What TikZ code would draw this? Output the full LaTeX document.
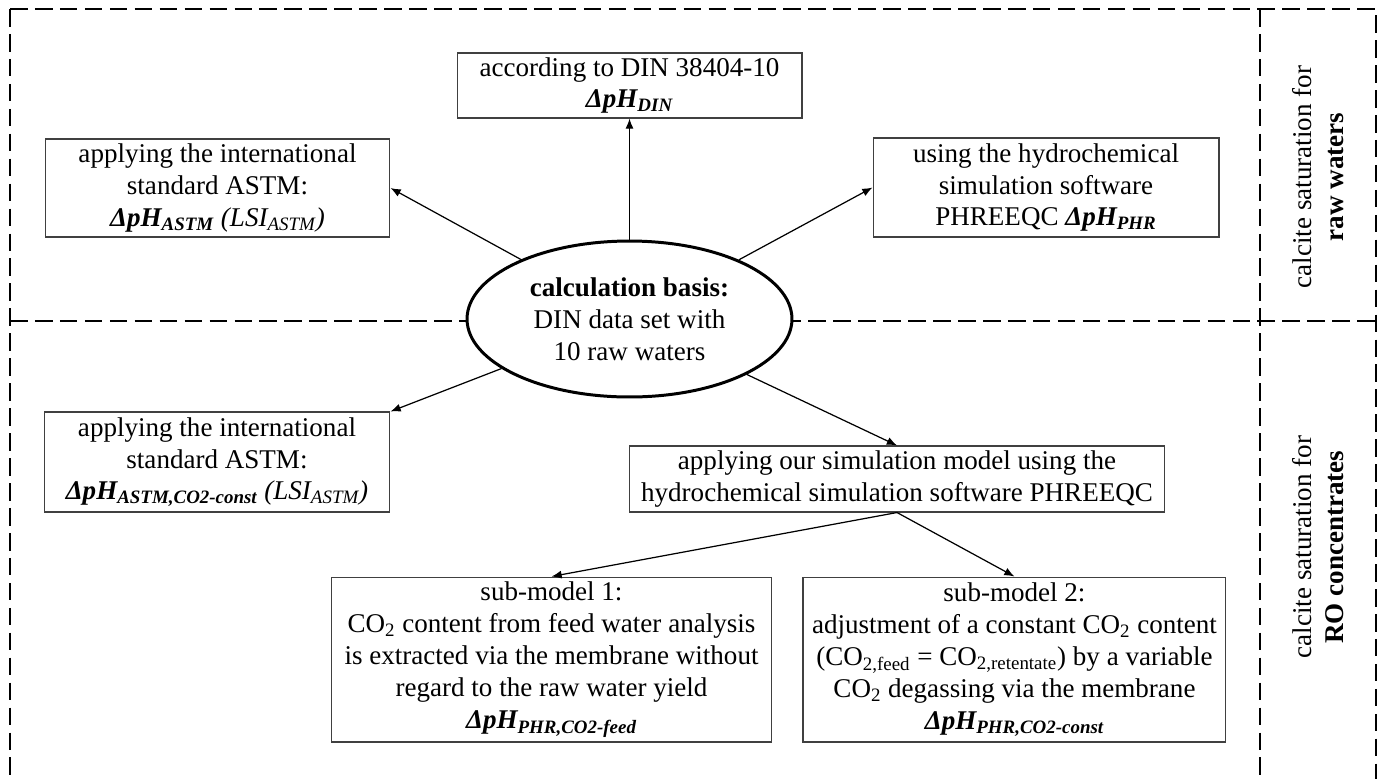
\documentclass[tikz,border=0pt]{standalone}
\usepackage{fontspec}
\setmainfont{Liberation Serif}
\usepackage{tikz}
\usetikzlibrary{positioning,shapes.geometric,arrows.meta}

\newcommand{\dph}[1]{\textbf{\textit{ΔpH\textsubscript{#1}}}}

\begin{document}
\begin{tikzpicture}[x=0.02cm, y=-0.02cm, node distance=0.6cm,
    every node/.style={font=\fontsize{15.4}{18.2}\selectfont}]
    \tikzstyle{box}=[draw=black!75, fill=white, line width=0.6pt, align=center,
                     inner sep=2pt]
    \tikzstyle{frame}=[line width=1.1pt, dash pattern=on 10pt off 4.2pt]
    \tikzstyle{link}=[-{Latex[length=5.8pt,width=4.6pt]}, line width=0.7pt]

    \useasboundingbox (0,0) rectangle (1385,778);
    \clip (0,0) rectangle (1385,778);

    % dashed frame
    \draw[frame] (10,9) -- (1376,9) -- (1376,800);
    \draw[frame] (10,9) -- (10,800);
    \draw[frame] (1260,9) -- (1260,800);
    \draw[frame] (10,321) -- (1376,321);

    \node[rotate=90, align=center] (rawlabel) at (1318,177) {calcite saturation for\\ \textbf{raw waters}};
    \node[rotate=90, align=center] (rolabel) at (1318,547) {calcite saturation for\\ \textbf{RO concentrates}};

    \node[ellipse, draw, fill=white, line width=1.7pt, align=center, inner sep=0pt,
          minimum width=6.5cm, minimum height=3.12cm] (basis) at (629.5,319)
          {\textbf{calculation basis:}\\ DIN data set with\\ 10 raw waters};
    \node[box, minimum width=6.9cm, minimum height=1.3cm] (din) at (629.5,85.5)
          {according to DIN 38404-10\\ \dph{DIN}};
    \node[box, minimum width=6.9cm, minimum height=1.96cm] (astmraw) at (217.5,188)
          {applying the international\\ standard ASTM:\\ \dph{ASTM} \textit{(LSI\textsubscript{ASTM})}};
    \node[box, minimum width=6.92cm, minimum height=1.98cm] (phr) at (1046,187.5)
          {using the hydrochemical\\ simulation software\\ PHREEQC \dph{PHR}};
    \node[box, minimum width=6.92cm, minimum height=2cm] (astmro) at (217,462)
          {applying the international\\ standard ASTM:\\ \dph{ASTM,CO2-const} \textit{(LSI\textsubscript{ASTM})}};
    \node[box, minimum width=10.72cm, minimum height=1.32cm] (simmodel) at (897,479)
          {applying our simulation model using the\\ hydrochemical simulation software PHREEQC};
    \node[box, minimum width=8.82cm, minimum height=3.3cm] (sub1) at (551.5,659.5)
          {sub-model 1:\\ CO\textsubscript{2} content from feed water analysis\\ is extracted via the membrane without\\ regard to the raw water yield\\ \dph{PHR,CO2-feed}};
    \node[box, minimum width=8.46cm, minimum height=3.3cm, right=of sub1] (sub2)
          {sub-model 2:\\ adjustment of a constant CO\textsubscript{2} content\\ (CO\textsubscript{2,feed} = CO\textsubscript{2,retentate}) by a variable\\ CO\textsubscript{2} degassing via the membrane\\ \dph{PHR,CO2-const}};

    \draw[link] (basis) -- (din);
    \draw[link] (basis) -- (astmraw.east);
    \draw[link] (basis) -- (phr.west);
    \draw[link] (basis) -- (astmro.north east);
    \draw[link] (basis) -- (simmodel.north);
    \draw[link] (simmodel.south) -- (sub1.north);
    \draw[link] (simmodel.south) -- (sub2.north);

\end{tikzpicture}
\end{document}
